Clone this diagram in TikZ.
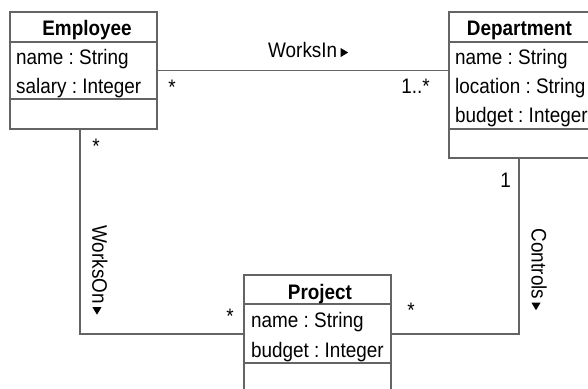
\documentclass[tikz,border=0pt]{standalone}
\usepackage{fontspec}
\setmainfont{Liberation Sans}[FakeStretch=0.9]
\frenchspacing
\definecolor{linec}{RGB}{100,100,100}
\newcommand{\fs}{\fontsize{21bp}{25bp}\selectfont}
\newcommand{\trig}{\tikz[baseline=0pt]\fill (0bp,0bp) -- (0bp,9bp) -- (7.5bp,4.5bp) -- cycle;}
\begin{document}
\begin{tikzpicture}[x=1bp,y=-1bp,
  box/.style={draw=linec, line width=1.5bp, anchor=north west, inner sep=0pt, outer sep=0pt},
  conn/.style={draw=linec, line width=1.5bp},
  attr/.style={anchor=base west, inner sep=0pt, font=\fs},
  head/.style={anchor=base, inner sep=0pt, font=\fs\bfseries},
  lab/.style={anchor=base, inner sep=0pt, font=\fs}]
\useasboundingbox (0,0) rectangle (588,388);
\clip (0,0) rectangle (588,388);
% boxes
\node[box, minimum width=147bp, minimum height=117bp] (emp) at (10,12) {};
\node[box, minimum width=140bp, minimum height=146bp] (dept) at (449,12) {};
\node[box, minimum width=147bp, minimum height=118bp] (proj) at (244,275) {};
% dividers
\draw[conn] (emp.north west |- 0,42) -- (emp.north east |- 0,42);
\draw[conn] (emp.north west |- 0,99) -- (emp.north east |- 0,99);
\draw[conn] (dept.north west |- 0,42) -- (dept.north east |- 0,42);
\draw[conn] (dept.north west |- 0,129) -- (dept.north east |- 0,129);
\draw[conn] (proj.north west |- 0,304) -- (proj.north east |- 0,304);
\draw[conn] (proj.north west |- 0,363) -- (proj.north east |- 0,363);
% texts
\node[head] (empH) at (87,35) {Employee};
\node[attr] (empA1) at (16,64) {name : String};
\node[attr] (empA2) at (16,93) {salary : Integer};
\node[head] (deptH) at (519.5,35) {Department};
\node[attr] (deptA1) at (455,64) {name : String};
\node[attr] (deptA2) at (455,93) {location : String};
\node[attr] (deptA3) at (455,122) {budget : Integer};
\node[head] (projH) at (320,299) {Project};
\node[attr] (projA1) at (251,327) {name : String};
\node[attr] (projA2) at (251,357) {budget : Integer};
% connectors
\draw[conn] (emp.east) -- (emp.east -| dept.west);
\draw[conn] ([xshift=-3.5bp]emp.south) |- (proj.west);
\draw[conn] (dept.south) |- (proj.east);
% labels
\node[lab, anchor=base west] (worksIn) at (268,57) {WorksIn\,\trig};
\node[lab] (m1) at (172,94) {*};
\node[lab, anchor=base east] (m2) at (430,93) {1..*};
\node[lab] (m3) at (96,153) {*};
\node[lab] (m4) at (505.5,187) {1};
\node[lab] (m5) at (230,323) {*};
\node[lab] (m6) at (411,317) {*};
\node[lab, rotate=-90, anchor=center] (worksOn) at (100,270) {WorksOn\,\trig};
\node[lab, rotate=-90, anchor=center] (controls) at (539,269.5) {Controls\,\trig};
\end{tikzpicture}
\end{document}
